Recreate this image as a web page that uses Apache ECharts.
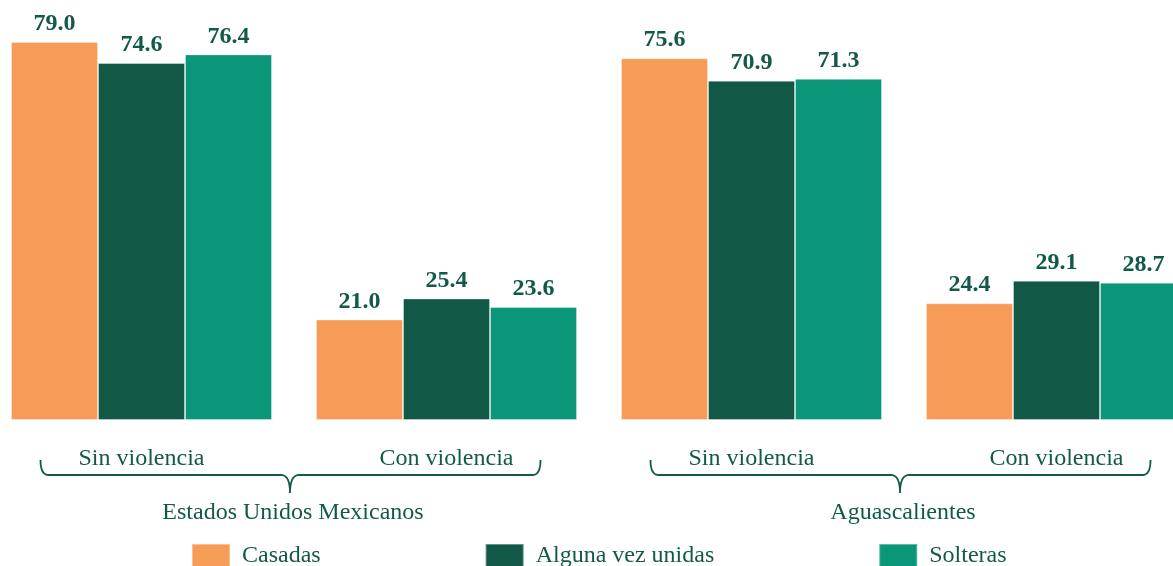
<!DOCTYPE html>
<html>
<head>
<meta charset="utf-8">
<script src="https://cdn.jsdelivr.net/npm/echarts@6/dist/echarts.min.js"></script>
<style>
html,body{margin:0;padding:0;background:#fff;}
#main{width:1173px;height:566px;}
</style>
</head>
<body>
<div id="main"></div>
<script>
var categories = ['Sin violencia', 'Con violencia', 'Sin violencia', 'Con violencia'];
var groups = ['Estados Unidos Mexicanos', 'Aguascalientes'];
var seriesNames = ['Casadas', 'Alguna vez unidas', 'Solteras'];
var casadas = [79.0, 21.0, 75.6, 24.4];
var alguna = [74.6, 25.4, 70.9, 29.1];
var solteras = [76.4, 23.6, 71.3, 28.7];
var colors = ['#F79C56', '#115847', '#0A9679'];
var textColor = '#13594A';
var font = '"Liberation Serif", "Times New Roman", serif';

var chart = echarts.init(document.getElementById('main'));

function mkSeries(name, data, color) {
  return {
    name: name,
    type: 'bar',
    data: data,
    barWidth: 87,
    barGap: '0%',
    itemStyle: { color: color, borderColor: 'rgba(255,255,255,0.35)', borderWidth: 1 },
    label: {
      show: true,
      position: 'top',
      distance: 6,
      color: textColor,
      fontFamily: font,
      fontWeight: 'bold',
      fontSize: 24,
      formatter: function (p) { return p.value.toFixed(1); }
    }
  };
}

var option = {
  animation: false,
  backgroundColor: '#fff',
  textStyle: { fontFamily: font },
  grid: { left: -11, right: -36, top: 37.2, bottom: 146, outerBoundsMode: 'none' },
  legend: {
    left: 191,
    top: 543,
    padding: 0,
    itemWidth: 38,
    itemHeight: 24,
    itemGap: 164,
    icon: 'rect',
    textStyle: { color: textColor, fontFamily: font, fontSize: 24, padding: [0, 0, 0, 7] },
    data: seriesNames
  },
  xAxis: {
    type: 'category',
    data: categories,
    axisLine: { show: false },
    axisTick: { show: false },
    axisLabel: { color: textColor, fontFamily: font, fontSize: 24, margin: 27, interval: 0 }
  },
  yAxis: {
    type: 'value',
    min: 0,
    max: 80,
    show: false,
    splitLine: { show: false }
  },
  series: [
    mkSeries(seriesNames[0], casadas, colors[0]),
    mkSeries(seriesNames[1], alguna, colors[1]),
    mkSeries(seriesNames[2], solteras, colors[2])
  ]
};
chart.setOption(option);

function quad(pts, p0, p1, p2) {
  for (var i = 1; i <= 10; i++) {
    var t = i / 10, u = 1 - t;
    pts.push([u * u * p0[0] + 2 * u * t * p1[0] + t * t * p2[0],
              u * u * p0[1] + 2 * u * t * p1[1] + t * t * p2[1]]);
  }
}

var graphics = [];
for (var g = 0; g < groups.length; g++) {
  var c0 = chart.convertToPixel({ xAxisIndex: 0 }, 2 * g);
  var c1 = chart.convertToPixel({ xAxisIndex: 0 }, 2 * g + 1);
  var xL = c0 - 101, xR = c1 + 94, xM = (c0 + c1) / 2 - 4;
  var yT = 460, yH = 475, yB = 493;
  var pts = [[xL, yT]];
  quad(pts, [xL, yT], [xL, yH], [xL + 8, yH]);
  pts.push([xM - 9, yH]);
  quad(pts, [xM - 9, yH], [xM, yH], [xM, yB]);
  quad(pts, [xM, yB], [xM, yH], [xM + 9, yH]);
  pts.push([xR - 8, yH]);
  quad(pts, [xR - 8, yH], [xR, yH], [xR, yT]);
  graphics.push({
    type: 'polyline',
    shape: { points: pts },
    style: { stroke: textColor, fill: null, lineWidth: 1.8 }
  });
  graphics.push({
    type: 'text',
    x: xM + 3,
    y: 513,
    style: {
      text: groups[g],
      fill: textColor,
      font: '24px ' + font,
      textAlign: 'center',
      textVerticalAlign: 'middle'
    }
  });
}
chart.setOption({ graphic: graphics });
</script>
</body>
</html>
